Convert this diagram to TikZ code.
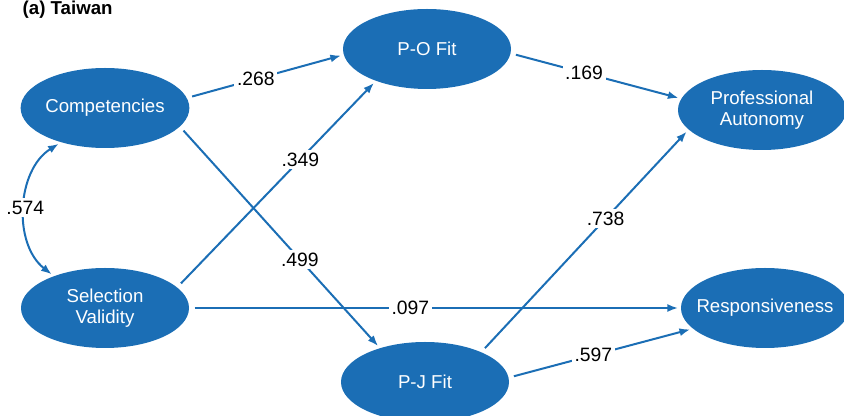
\documentclass[tikz,border=0pt]{standalone}
\usepackage{fontspec}
\setmainfont{Liberation Sans}
\usetikzlibrary{arrows.meta,shapes.geometric}
\definecolor{semblue}{HTML}{1B6EB5}

\begin{document}
\begin{tikzpicture}[x=0.75pt,y=-0.75pt,
  latent/.style={ellipse,fill=semblue,text=white,minimum width=126pt,minimum height=60pt,inner sep=0pt,align=center,font=\fontsize{14}{16}\selectfont},
  path/.style={draw=semblue,line width=1.5pt,-{Latex[length=8pt,width=6pt]},shorten <=4pt,shorten >=2pt},
  coef/.style={fill=white,inner sep=2pt,text=black,font=\fontsize{14.5}{16}\selectfont}]
\useasboundingbox (0,0) rectangle (844,416);

%titre
\node[anchor=base west,font=\bfseries\fontsize{14}{16}\selectfont] (title) at (18,15) {(a) Taiwan};

%variables latentes
\node[latent] (comp) at (105,108) {Competencies};
\node[latent] (sv) at (105,308) {Selection\\Validity};
\node[latent] (po) at (427,49) {P-O Fit};
\node[latent] (pj) at (425,382) {P-J Fit};
\node[latent] (pa) at (762,110) {Professional\\Autonomy};
\node[latent] (resp) at (765,308) {\makebox[0pt]{Responsiveness}};

%chemins
\draw[path] (comp.7) -- node[coef,pos=0.44] {.268} (po.184);
\draw[path] (po.357) -- node[coef,pos=0.43] {.169} (pa.172);
\draw[path] (comp.346) -- node[coef,pos=0.6] {.499} (pj.143);
\draw[path] (sv.16) -- node[coef,pos=0.62] {.349} (po.212);
\draw[path] (sv.east) -- node[coef,pos=0.45] {.097} (resp.west);
\draw[path] (pj.28) -- node[coef,pos=0.6] {.738} (pa.195);
\draw[path] (pj.3) -- node[coef,pos=0.46] {.597} (resp.196);

%covariance
\draw[path,{Latex[length=8pt,width=6pt]}-{Latex[length=8pt,width=6pt]},shorten <=2pt] (comp.218) to[bend right=55] node[coef] {.574} (sv.148);
\end{tikzpicture}
\end{document}
